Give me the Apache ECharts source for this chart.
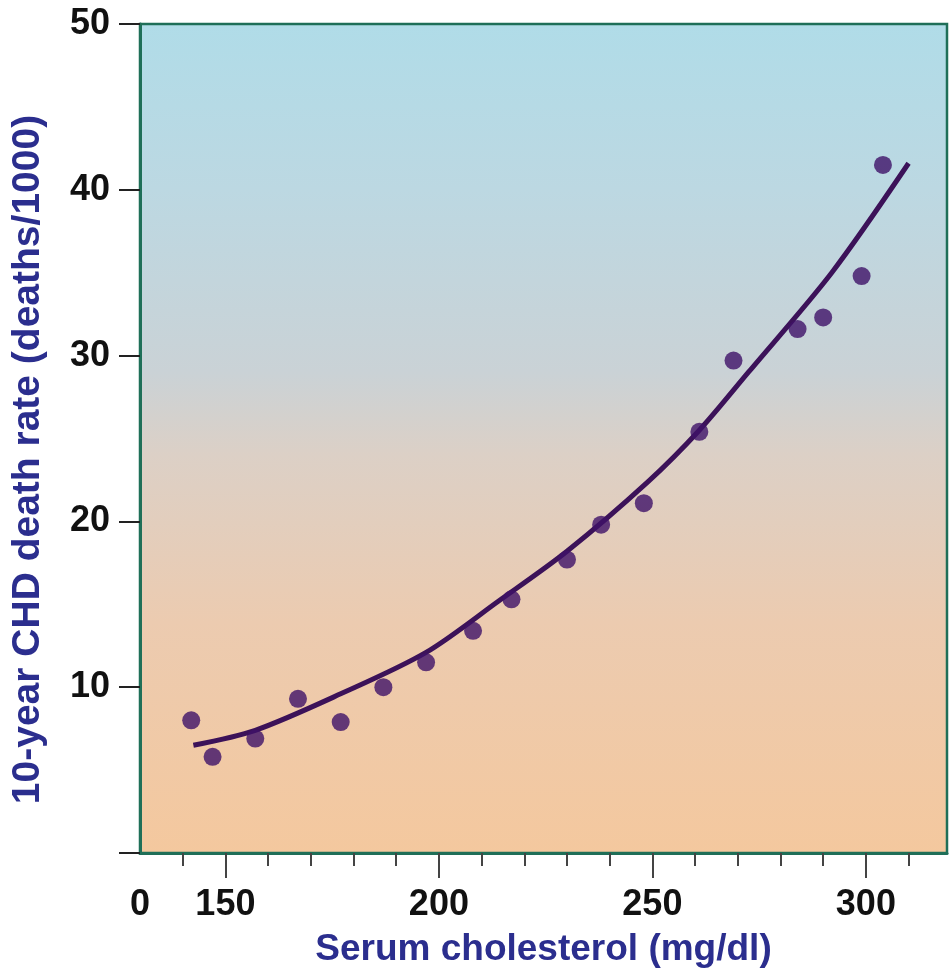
<!DOCTYPE html>
<html>
<head>
<meta charset="utf-8">
<script src="https://cdn.jsdelivr.net/npm/echarts@6/dist/echarts.min.js"></script>
<style>
  html, body { margin: 0; padding: 0; background: #fff; }
  #chart { width: 951px; height: 974px; }
</style>
</head>
<body>
<div id="chart"></div>
<script>
// observed points: serum cholesterol vs 10-year CHD death rate
var cholesterol = [142, 147, 157, 167, 177, 187, 197, 208, 217, 230, 238, 248, 261, 269, 284, 290, 299, 304];
var deathRate = [8.0, 5.8, 6.9, 9.3, 7.9, 10.0, 11.5, 13.4, 15.3, 17.7, 19.8, 21.1, 25.4, 29.7, 31.6, 32.3, 34.8, 41.5];

// fitted curve
var curveX = [142.5, 157, 177, 197, 214, 230, 249, 261, 272.5, 292, 310];
var curveY = [6.5, 7.4, 9.6, 12.1, 15.2, 18.2, 22.4, 25.5, 29.0, 35.0, 41.6];

// x axis ticks (axis is broken: origin is labelled 0)
var xLabelValues = [130, 150, 200, 250, 300];
var xMajorTicks = [150, 200, 250, 300];
var xMinorTicks = [140, 150, 160, 170, 180, 190, 200, 210, 220, 230, 240, 250, 260, 270, 280, 290, 300, 310];

var tickFont = "'Liberation Sans', Arial, sans-serif";
var titleFont = "'Liberation Sans', Arial, sans-serif";
var navy = '#2b2e8e';
var green = '#1f6f58';

var chart = echarts.init(document.getElementById('chart'));

var option = {
  animation: false,
  grid: {
    left: 140, right: 4, top: 24, bottom: 121,
    show: true,
    borderColor: green,
    borderWidth: 2.5,
    backgroundColor: {
      type: 'linear', x: 0, y: 0, x2: 0, y2: 1,
      colorStops: [
        { offset: 0, color: '#b0dce8' },
        { offset: 0.2, color: '#bcd8e2' },
        { offset: 0.42, color: '#cad2d6' },
        { offset: 0.52, color: '#dcd0c6' },
        { offset: 0.72, color: '#eccbb0' },
        { offset: 1, color: '#f4c89e' }
      ]
    }
  },
  xAxis: [
    {
      type: 'value', min: 130, max: 319,
      name: 'Serum cholesterol (mg/dl)',
      nameLocation: 'middle',
      nameGap: 78,
      nameTextStyle: { color: navy, fontFamily: titleFont, fontWeight: 'bold', fontSize: 37 },
      axisLine: { show: true, lineStyle: { color: green, width: 3 } },
      axisTick: { show: true, customValues: xMinorTicks, length: 13, lineStyle: { color: '#444', width: 2 } },
      axisLabel: {
        customValues: xLabelValues,
        margin: 34,
        color: '#111',
        fontFamily: tickFont,
        fontWeight: 'bold',
        fontSize: 36,
        formatter: function (v) { return v === 130 ? '0' : String(v); }
      },
      splitLine: { show: false }
    },
    {
      type: 'value', min: 130, max: 319,
      position: 'bottom',
      axisLine: { show: false },
      axisTick: { show: true, customValues: xMajorTicks, length: 25, lineStyle: { color: '#444', width: 2 } },
      axisLabel: { show: false },
      splitLine: { show: false }
    }
  ],
  yAxis: {
    type: 'value', min: 0, max: 50, interval: 10,
    name: '10-year CHD death rate (deaths/1000)',
    nameLocation: 'middle',
    nameGap: 92,
    nameTextStyle: { color: navy, fontFamily: titleFont, fontWeight: 'bold', fontSize: 39, padding: [0, 42, 0, 0] },
    axisLine: { show: true, lineStyle: { color: green, width: 3 } },
    axisTick: { show: true, length: 21, lineStyle: { color: '#222', width: 2 } },
    axisLabel: {
      margin: 30,
      color: '#111',
      fontFamily: tickFont,
      fontWeight: 'bold',
      fontSize: 36,
      formatter: function (v) { return v === 0 ? '' : String(v); }
    },
    splitLine: { show: false }
  },
  series: [
    {
      name: 'fit',
      type: 'line',
      data: curveX.map(function (x, i) { return [x, curveY[i]]; }),
      smooth: 0.3,
      showSymbol: false,
      lineStyle: { color: '#3c1259', width: 5 },
      z: 2
    },
    {
      name: 'observed',
      type: 'scatter',
      data: cholesterol.map(function (x, i) { return [x, deathRate[i]]; }),
      symbolSize: 18,
      itemStyle: { color: '#3f1268' },
      z: 3
    }
  ]
};

chart.setOption(option);
</script>
</body>
</html>
